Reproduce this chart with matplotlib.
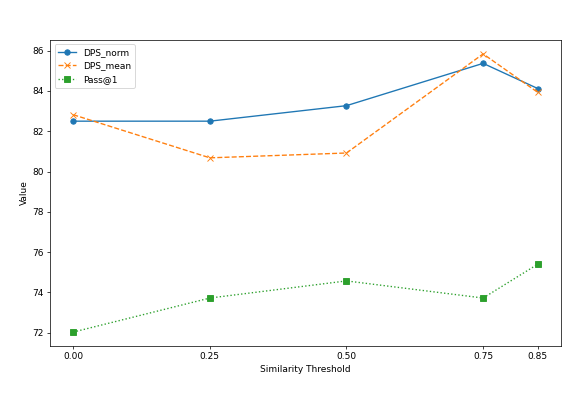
import matplotlib.pyplot as plt

# data
thresholds = [0.00, 0.25, 0.50, 0.75, 0.85]
dps_norm = [82.50, 82.50, 83.27, 85.37, 84.12]
dps_mean = [82.82, 80.68, 80.92, 85.84, 83.93]
pass_at_1 = [72.03, 73.72, 74.57, 73.72, 75.40]

# figure rendered at reduced dpi so default sizes shrink like the reference
dpi = 65
fig = plt.figure(figsize=(587 / dpi, 408 / dpi), dpi=dpi)
ax = fig.add_axes([0.0852, 0.152, 0.8705, 0.750])

ax.plot(thresholds, dps_norm, marker='o', linestyle='-', label="DPS_norm", color="#1f77b4")
ax.plot(thresholds, dps_mean, marker='x', linestyle='--', label="DPS_mean", color="#ff7f0e")
ax.plot(thresholds, pass_at_1, marker='s', linestyle=':', label="Pass@1", color="#2ca02c")

ax.set_xticks(thresholds)
ax.set_xticklabels([f"{t:.2f}" for t in thresholds])

ax.set_xlabel("Similarity Threshold")
ax.set_ylabel("Value")
ax.legend(loc="upper left")

fig.savefig("out.png", dpi=dpi)
